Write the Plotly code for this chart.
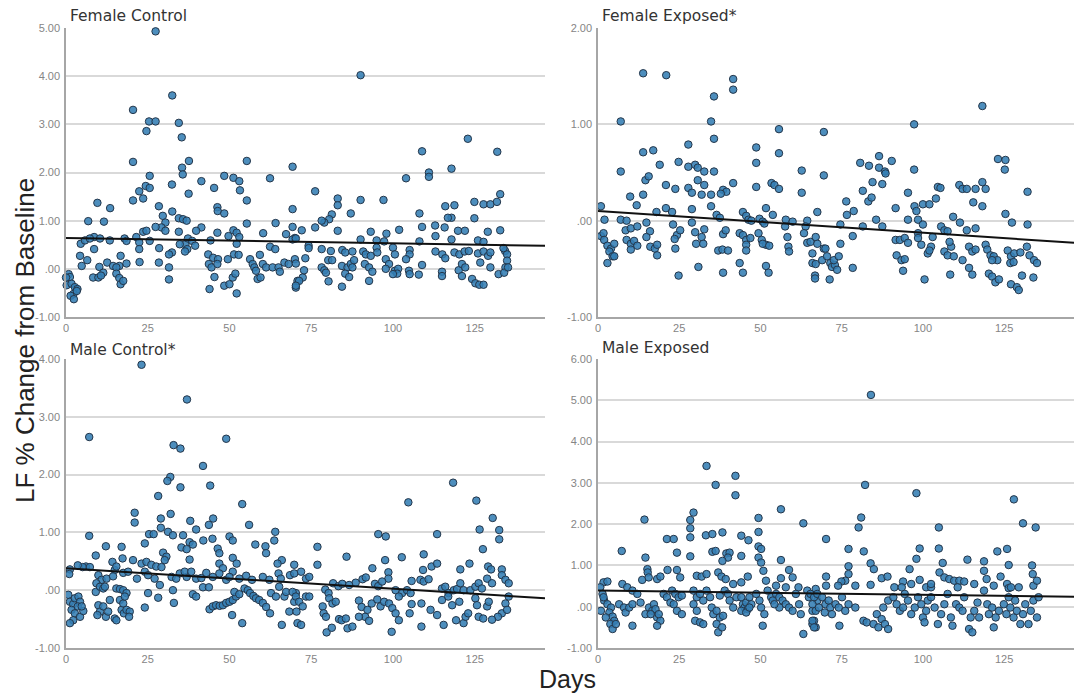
import plotly.graph_objects as go

# ---------------- data ----------------
# Female Control
fc_day = [27.4,32.5,20.5,34.5,25.4,27.4,24.6,35.4,20.5,37.6,
          35.5,35.7,25.6,55.3,69.3,62.4,41.4,32.4,37.5,24.4,
          25.6,22.4,23.6,20.5,48.4,51.2,53.0,45.3,53.2,55.3,
          28.4,9.6,13.5,46.3,46.4,48.4,69.3,32.5,29.6,30.4,
          29.2,6.8,11.6,34.5,35.8,36.9,55.3,64.1,69.3,27.4,
          30.4,34.5,41.4,39.8,23.6,46.3,51.2,52.2,60.3,67.3,
          4.5,8.6,5.8,7.3,10.4,13.4,17.9,18.5,21.5,22.4,
          24.6,25.6,28.5,22.4,8.6,36.5,37.3,38.6,39.5,37.1,
          36.4,44.2,49.7,52.2,53.0,43.5,45.0,43.7,62.4,64.0,
          70.0,70.0,32.4,4.3,4.8,6.5,16.7,16.3,12.6,14.4,
          15.4,18.5,22.5,28.4,31.5,34.8,46.5,44.5,46.3,49.5,
          51.4,52.8,56.3,57.1,57.6,58.1,59.3,60.2,61.2,63.2,
          65.0,65.4,66.8,68.1,10.2,11.4,8.3,9.9,10.7,15.4,
          16.3,16.7,17.5,0.8,1.2,0.0,0.2,1.7,2.7,3.5,
          2.3,3.3,1.4,2.4,31.5,31.5,43.9,45.4,48.4,50.0,
          51.0,51.8,52.2,58.6,59.5,70.3,70.8,72.4,71.3,70.3,
          90.1,122.9,108.9,131.9,111.0,111.0,117.9,104.0,76.2,83.1,
          83.1,90.1,97.1,124.9,127.7,129.8,131.8,132.8,87.1,81.3,
          80.5,79.0,78.2,108.1,116.0,118.8,117.9,116.8,124.9,76.2,
          72.1,83.1,93.2,98.0,101.9,108.9,112.9,115.8,119.9,122.0,
          129.0,132.8,113.0,69.3,70.3,90.1,95.0,97.3,108.1,117.9,
          126.0,127.7,74.2,74.2,78.2,81.0,84.5,85.4,87.6,90.9,
          91.7,93.2,95.0,95.2,100.0,100.6,105.1,105.1,104.0,113.0,
          115.1,116.0,118.8,120.3,121.9,123.2,126.0,127.7,129.1,129.8,
          134.3,134.9,134.9,134.4,133.8,73.2,70.3,72.8,80.2,81.4,
          78.2,79.0,79.5,84.4,86.1,87.1,87.6,88.1,85.4,86.6,
          84.4,91.4,92.7,93.7,92.7,97.8,98.8,97.8,100.6,101.6,
          101.3,100.0,104.9,105.1,107.9,108.9,115.0,115.0,120.1,121.1,
          121.1,122.1,124.2,125.2,126.4,127.7,126.7,129.8,132.3,134.0,
          135.2,80.3]
fc_val = [4.93,3.60,3.30,3.03,3.06,3.06,2.86,2.73,2.22,2.24,
          2.10,1.96,1.93,2.24,2.12,1.88,1.82,1.75,1.56,1.72,
          1.68,1.61,1.46,1.42,1.93,1.89,1.82,1.68,1.63,1.42,
          1.30,1.37,1.26,1.28,1.20,1.15,1.24,1.19,1.10,0.96,
          0.86,0.99,0.98,1.05,1.03,1.00,0.94,0.95,0.87,0.87,
          0.79,0.77,0.86,0.79,0.77,0.75,0.80,0.75,0.74,0.72,
          0.52,0.66,0.59,0.63,0.63,0.59,0.63,0.58,0.66,0.55,
          0.79,0.58,0.43,0.41,0.41,0.51,0.63,0.58,0.48,0.41,
          0.36,0.59,0.68,0.52,0.66,0.30,0.23,0.10,0.46,0.41,
          0.64,0.20,0.34,0.27,0.06,0.18,0.27,0.06,0.13,0.06,
          0.03,0.11,0.14,0.13,0.30,0.51,0.20,0.03,0.10,0.20,
          0.30,0.29,0.20,0.10,0.03,-0.04,0.29,0.10,0.03,0.03,
          0.03,-0.06,0.13,0.10,0.04,-0.08,-0.18,-0.18,-0.14,-0.10,
          -0.19,-0.32,-0.25,-0.11,-0.17,-0.18,-0.34,-0.31,-0.38,-0.42,
          -0.52,-0.46,-0.56,-0.63,0.03,-0.22,-0.42,-0.17,-0.35,-0.32,
          -0.18,-0.10,-0.51,-0.21,-0.18,-0.39,-0.25,-0.18,-0.25,-0.35,
          4.02,2.70,2.44,2.43,2.00,1.91,2.08,1.88,1.61,1.46,
          1.32,1.43,1.43,1.39,1.34,1.34,1.39,1.55,1.15,1.13,
          1.03,0.96,1.00,1.15,1.30,1.32,1.06,1.06,1.05,0.86,
          0.80,0.79,0.77,0.73,0.81,0.87,0.90,0.86,0.79,0.79,
          0.77,0.80,0.68,0.61,0.63,0.61,0.59,0.57,0.57,0.61,
          0.59,0.56,0.48,0.43,0.41,0.37,0.39,0.34,0.36,0.36,
          0.30,0.27,0.44,0.34,0.44,0.30,0.39,0.30,0.20,0.36,
          0.30,0.22,0.34,0.30,0.36,0.37,0.32,0.36,0.27,0.34,
          0.37,0.30,0.17,0.03,0.43,0.22,0.11,-0.03,0.18,0.18,
          0.03,-0.03,-0.08,0.06,0.03,0.10,0.03,0.18,-0.10,-0.17,
          -0.37,0.10,0.03,-0.06,-0.25,0.20,0.10,0.00,-0.04,0.00,
          -0.10,-0.11,-0.04,-0.11,-0.12,0.08,-0.06,-0.15,-0.03,-0.15,
          0.10,0.03,-0.21,-0.30,-0.33,-0.33,0.13,0.03,-0.11,-0.08,
          0.03,-0.26]

# Female Exposed*
fe_day = [13.9,21.0,41.6,41.6,35.7,7.0,34.8,35.7,55.7,27.8,
          48.7,13.9,17.0,55.7,7.0,19.0,24.8,27.8,29.9,30.7,
          32.7,35.7,48.7,62.7,14.6,15.6,30.7,32.7,20.9,23.8,
          27.8,28.9,41.6,38.5,39.5,37.8,48.7,53.4,54.3,55.7,
          62.7,9.9,13.9,11.9,31.9,34.8,34.8,28.9,20.9,22.8,
          18.0,0.9,36.5,37.5,44.6,45.6,51.7,53.8,67.5,2.0,
          7.0,8.8,14.9,28.9,46.3,47.2,49.7,50.7,51.2,57.8,
          59.9,64.4,63.9,0.9,1.7,8.5,10.1,12.1,16.0,23.1,
          24.3,25.3,23.6,29.9,31.9,32.7,38.5,39.3,43.6,44.6,
          45.6,45.6,46.9,49.4,50.4,51.7,57.6,58.3,63.4,64.4,
          65.4,67.0,1.9,2.9,4.0,5.0,3.5,4.5,2.9,5.0,
          8.8,10.1,11.1,12.1,10.1,14.9,16.1,17.5,18.2,18.2,
          23.8,24.8,30.9,30.2,32.4,37.0,38.3,40.0,38.5,43.6,
          44.6,45.6,50.7,52.7,51.7,52.5,58.6,58.8,66.0,66.8,
          67.5,
          69.5,69.5,97.3,118.3,97.3,123.1,125.4,125.2,80.7,83.4,
          86.5,86.5,88.3,88.5,90.4,84.5,87.5,81.5,83.2,84.2,
          95.4,104.6,105.4,111.2,112.2,113.5,116.2,118.3,119.3,132.2,
          76.4,78.7,76.6,91.6,97.4,98.0,100.0,102.0,104.0,115.5,
          118.3,125.4,95.4,98.5,100.0,98.5,85.6,87.5,81.5,74.6,
          78.4,109.3,111.4,113.5,116.2,127.4,132.2,105.6,106.6,107.6,
          69.5,74.6,91.6,92.9,94.4,95.4,91.9,93.4,94.4,93.9,
          98.5,99.5,101.5,102.5,103.0,102.0,100.5,106.6,107.6,108.7,
          109.5,108.2,108.4,112.2,114.2,115.2,116.2,114.2,115.2,119.3,
          119.8,120.8,121.8,122.9,121.3,120.3,121.3,122.3,123.4,126.1,
          127.1,128.1,130.0,126.9,127.9,132.0,132.8,134.2,135.1,134.0,
          127.1,128.9,129.5,130.5,66.0,67.0,66.8,69.0,70.0,70.5,
          71.5,72.0,71.3,72.9,72.6,73.6,74.1,78.4]
fe_val = [1.53,1.51,1.47,1.36,1.29,1.03,1.03,0.85,0.95,0.79,
          0.76,0.71,0.73,0.70,0.51,0.58,0.61,0.56,0.58,0.55,
          0.51,0.51,0.60,0.52,0.42,0.46,0.42,0.37,0.37,0.33,
          0.34,0.29,0.39,0.32,0.30,0.28,0.35,0.39,0.37,0.33,
          0.29,0.25,0.27,0.16,0.27,0.27,0.15,0.12,0.13,0.09,
          0.09,0.15,0.06,0.03,0.09,0.05,0.13,0.06,0.09,0.01,
          0.01,0.00,-0.02,-0.02,0.01,0.00,0.02,-0.01,-0.03,0.01,
          -0.01,0.00,-0.06,-0.16,-0.13,-0.10,-0.08,-0.06,-0.11,-0.04,
          -0.15,-0.10,-0.19,-0.12,-0.17,-0.09,-0.14,-0.10,-0.13,-0.15,
          -0.20,-0.25,-0.18,-0.13,-0.20,-0.25,-0.06,-0.17,-0.13,-0.23,
          -0.22,-0.17,-0.20,-0.26,-0.29,-0.24,-0.32,-0.37,-0.44,-0.37,
          -0.20,-0.24,-0.21,-0.26,-0.30,-0.17,-0.27,-0.29,-0.25,-0.36,
          -0.29,-0.57,-0.48,-0.24,-0.24,-0.31,-0.30,-0.31,-0.54,-0.44,
          -0.54,-0.31,-0.24,-0.26,-0.47,-0.54,-0.27,-0.32,-0.44,-0.57,
          -0.24,
          0.92,0.47,1.00,1.19,0.53,0.64,0.63,0.53,0.60,0.57,
          0.67,0.55,0.51,0.49,0.62,0.40,0.38,0.31,0.20,0.24,
          0.29,0.35,0.34,0.37,0.33,0.33,0.33,0.40,0.33,0.30,
          0.20,0.10,0.06,0.13,0.15,0.10,0.17,0.17,0.23,0.19,
          0.15,0.07,0.01,0.01,-0.04,-0.13,0.01,-0.06,-0.06,-0.04,
          -0.16,0.04,-0.02,-0.10,-0.08,-0.02,-0.04,-0.06,-0.10,-0.11,
          -0.29,-0.24,-0.20,-0.20,-0.18,-0.23,-0.36,-0.41,-0.40,-0.52,
          -0.18,-0.25,-0.34,-0.27,-0.17,-0.31,-0.61,-0.32,-0.36,-0.27,
          -0.37,-0.22,-0.56,-0.41,-0.27,-0.32,-0.30,-0.49,-0.56,-0.25,
          -0.30,-0.36,-0.37,-0.41,-0.41,-0.55,-0.58,-0.64,-0.61,-0.31,
          -0.37,-0.34,-0.33,-0.44,-0.43,-0.27,-0.36,-0.41,-0.44,-0.59,
          -0.66,-0.69,-0.72,-0.57,-0.34,-0.45,-0.60,-0.41,-0.29,-0.37,
          -0.44,-0.48,-0.61,-0.46,-0.41,-0.51,-0.37,-0.49]

# Male Control*
mc_day = [23.1,37.0,7.1,49.0,32.9,35.0,41.9,31.9,31.0,35.0,
          44.1,28.2,53.9,21.0,21.0,32.0,29.0,38.0,39.8,45.0,
          43.7,56.0,7.1,25.4,26.8,29.0,31.2,32.7,35.8,37.8,
          38.8,42.0,44.8,50.0,51.0,12.2,17.0,24.1,35.3,36.9,
          46.4,46.9,57.9,9.1,6.1,5.1,7.3,17.3,20.5,23.1,
          24.6,26.1,27.6,29.2,29.7,30.7,30.2,34.8,36.9,37.8,
          46.9,48.0,51.0,52.2,61.0,61.2,63.7,64.0,66.0,64.7,
          69.8,1.2,1.0,9.9,10.9,12.4,14.2,14.9,15.4,14.4,
          17.5,19.0,21.7,24.1,25.1,28.7,27.1,32.3,33.7,36.3,
          38.3,39.8,41.4,42.9,46.9,44.9,51.0,53.0,55.1,56.9,
          49.0,50.0,60.2,62.2,65.0,65.7,68.5,3.6,
          0.7,1.2,2.2,2.7,3.8,4.3,1.7,2.7,3.6,2.2,
          1.2,4.3,5.3,4.8,9.9,10.4,9.6,11.4,12.2,12.9,
          13.4,14.9,15.4,16.5,17.0,17.5,17.7,18.5,19.5,19.3,
          15.4,16.5,17.5,18.5,18.0,24.1,25.1,28.2,32.7,33.0,
          38.8,39.8,41.9,43.7,43.9,44.9,45.9,47.0,48.0,49.0,
          50.0,51.0,52.0,51.5,50.8,53.9,53.0,54.6,55.6,56.3,
          57.3,58.1,59.1,60.2,61.2,62.4,62.7,64.2,65.2,66.8,
          66.0,67.3,68.3,69.8,70.3,70.8,9.1,9.3,10.4,11.4,
          11.9,
          118.4,104.7,125.5,130.5,126.5,132.5,132.5,95.5,97.8,113.5,
          76.9,127.5,85.8,102.7,109.4,97.6,76.9,93.7,98.6,98.6,
          109.2,111.8,113.5,120.6,123.4,129.1,130.0,133.3,69.8,71.9,
          73.4,74.4,88.6,90.7,91.7,94.5,95.5,96.7,81.7,83.3,
          84.5,86.6,79.3,80.3,80.5,100.8,102.8,104.3,105.4,101.8,
          105.7,108.4,109.4,110.9,115.0,116.0,117.0,118.6,119.6,120.6,
          121.6,123.7,125.2,126.2,127.2,128.8,130.3,133.3,134.4,135.4,
          135.4,134.4,133.3,134.9,132.1,69.3,70.3,71.3,72.4,70.5,
          71.9,73.4,74.4,78.5,78.8,79.5,79.7,81.3,81.5,82.5,
          83.5,84.3,85.6,86.1,87.6,89.6,90.4,91.5,92.7,89.6,
          92.2,93.5,95.2,96.2,97.3,98.8,99.8,100.8,101.8,99.6,
          105.1,105.7,108.7,108.7,111.5,113.5,115.0,115.5,116.9,118.1,
          119.3,120.3,121.6,122.2,123.0,125.2,125.7,126.2,127.6,128.8,
          130.3,129.3]
mc_val = [3.90,3.30,2.65,2.62,2.51,2.45,2.15,1.96,1.89,1.78,
          1.81,1.63,1.49,1.34,1.17,1.32,1.24,1.20,1.05,1.24,
          1.13,1.13,0.94,0.97,0.97,1.08,1.01,0.95,0.95,0.83,
          0.79,0.86,0.89,0.93,0.86,0.76,0.75,0.81,0.74,0.71,
          0.72,0.64,0.79,0.60,0.41,0.40,0.40,0.55,0.52,0.46,
          0.49,0.44,0.41,0.40,0.65,0.58,0.52,0.29,0.23,0.53,
          0.46,0.38,0.56,0.46,0.76,0.64,0.86,1.01,0.52,0.46,
          0.44,0.36,0.28,0.26,0.18,0.20,0.49,0.35,0.41,0.24,
          0.30,0.32,0.20,0.32,0.26,0.09,0.20,0.23,0.20,0.32,
          0.32,0.20,0.21,0.30,0.29,0.23,0.32,0.20,0.25,0.18,
          0.18,0.23,0.23,0.18,0.29,0.20,0.26,0.43,
          -0.08,-0.20,-0.24,-0.14,-0.11,-0.20,-0.34,-0.40,-0.28,-0.52,
          -0.57,-0.46,-0.36,-0.28,-0.26,-0.37,-0.43,-0.28,-0.46,-0.37,
          -0.17,-0.49,-0.52,-0.17,-0.34,-0.23,-0.40,-0.34,-0.37,-0.46,
          0.03,0.02,0.00,-0.05,-0.11,-0.30,-0.05,-0.13,0.00,-0.22,
          -0.07,-0.11,0.05,0.05,-0.33,-0.28,-0.26,-0.27,-0.26,-0.22,
          -0.20,-0.17,-0.11,-0.03,-0.43,-0.57,-0.07,0.03,0.00,-0.05,
          -0.10,-0.14,-0.17,-0.22,-0.29,-0.40,-0.05,-0.11,0.06,-0.11,
          -0.60,-0.03,-0.37,-0.20,-0.05,-0.57,-0.03,0.12,0.06,0.03,
          0.06,
          1.86,1.52,1.55,1.25,1.05,1.04,0.88,0.97,0.93,0.97,
          0.75,0.71,0.58,0.57,0.62,0.52,0.44,0.38,0.31,0.20,
          0.35,0.41,0.46,0.36,0.46,0.41,0.36,0.36,0.29,0.32,
          0.20,0.23,0.13,0.19,0.22,0.11,0.07,0.15,0.12,0.07,
          0.11,0.09,0.01,-0.05,-0.14,0.00,-0.05,0.00,-0.05,-0.11,
          0.16,0.18,0.15,0.19,0.03,0.06,-0.05,0.00,0.02,0.12,
          0.00,0.00,0.06,0.12,0.03,0.20,0.12,0.26,0.18,0.12,
          -0.11,-0.23,-0.40,-0.34,-0.46,-0.03,-0.11,-0.20,-0.28,-0.37,
          -0.60,-0.11,-0.11,-0.28,-0.40,-0.46,-0.73,-0.65,-0.23,-0.20,
          -0.50,-0.52,-0.49,-0.66,-0.63,-0.18,-0.29,-0.46,-0.53,-0.46,
          -0.34,-0.23,-0.16,-0.28,-0.20,-0.23,-0.31,-0.40,-0.52,-0.72,
          -0.40,-0.24,-0.23,-0.63,-0.34,-0.43,-0.17,-0.60,-0.11,-0.26,
          -0.52,-0.20,-0.57,-0.46,-0.40,-0.14,-0.26,-0.46,-0.49,-0.28,
          -0.51,-0.20]

# Male Exposed
me_day = [33.4,42.3,42.3,36.2,56.3,14.3,29.4,28.4,28.4,28.4,
          49.4,49.4,63.2,21.2,23.3,33.2,35.2,38.3,44.1,46.3,
          7.3,14.6,28.4,24.3,35.2,36.2,49.4,50.2,44.1,39.5,
          40.5,40.0,38.3,56.3,15.2,15.3,21.4,24.3,49.4,50.2,
          50.9,58.8,7.5,13.6,15.6,1.7,2.9,18.2,19.2,25.3,
          30.4,31.9,33.4,37.0,38.0,39.3,41.6,44.1,46.1,51.7,
          56.3,59.9,54.8,57.8,61.7,67.0,
          0.7,1.4,1.9,2.9,4.0,3.5,4.5,5.0,3.8,4.5,
          5.5,2.4,0.9,1.7,6.5,8.0,8.5,9.6,10.6,10.6,
          9.0,10.6,12.1,13.1,14.6,15.7,16.7,17.2,18.2,19.2,
          17.7,18.7,18.2,16.2,20.2,21.2,22.3,22.8,23.8,24.8,
          23.3,24.3,25.8,25.8,29.4,30.4,31.4,32.4,29.4,30.4,
          29.9,31.4,32.4,33.4,34.5,35.0,35.5,36.5,37.5,36.5,
          38.5,37.0,38.2,37.5,39.0,40.0,40.5,41.6,42.6,44.1,
          44.6,45.1,45.6,46.1,46.6,47.2,44.1,45.6,46.6,48.7,
          49.7,50.2,51.2,50.7,52.2,53.3,53.8,54.8,55.8,56.8,
          57.8,58.8,59.9,55.8,54.3,60.9,61.9,62.4,63.2,64.4,
          64.9,66.0,66.5,67.0,67.5,66.0,
          84.0,82.2,98.0,128.0,81.0,80.2,104.9,130.8,134.7,70.2,
          77.1,81.8,99.0,104.9,122.9,125.9,98.0,113.7,118.8,106.1,
          77.1,83.9,84.9,95.9,126.4,133.6,70.2,70.2,77.1,76.1,
          74.9,73.9,87.3,89.1,83.9,79.2,91.2,93.9,96.4,99.0,
          101.0,102.5,105.1,106.6,108.1,109.6,111.2,112.7,
          65.4,66.5,67.5,66.0,67.0,66.0,66.5,68.0,69.0,70.0,
          69.8,71.0,71.5,72.0,73.1,74.1,74.3,75.1,76.1,77.1,
          79.2,81.7,82.7,84.8,85.8,86.3,87.3,88.3,89.3,87.8,
          89.3,90.9,91.9,92.9,93.9,94.4,95.4,96.4,97.5,98.5,
          99.5,100.0,100.5,101.0,101.5,102.5,103.6,104.6,105.6,106.6,
          107.6,108.6,109.1,110.2,111.2,112.2,112.7,114.2,115.2,114.7,
          115.8,116.8,117.3,118.8,119.8,120.3,121.3,121.8,122.4,123.4,
          124.9,125.7,126.4,126.9,127.9,128.4,128.9,130.0,130.8,131.5,
          132.5,133.2,134.0,135.1,135.6,
          118.8,119.6,123.9,125.9,126.4,127.1,129.5,133.8,134.0,135.1,
          110.7,115.8,121.8,102.5,93.5]
me_val = [3.41,3.17,2.70,2.95,2.36,2.11,2.28,2.10,1.90,1.68,
          2.15,1.81,2.02,1.64,1.64,1.73,1.76,1.80,1.72,1.61,
          1.35,1.19,1.22,1.31,1.33,1.35,1.46,1.40,1.23,1.29,
          1.31,1.19,1.11,1.13,0.91,0.83,0.89,0.89,1.19,1.07,
          0.87,0.89,0.55,0.65,0.71,0.59,0.61,0.67,0.73,0.71,
          0.75,0.73,0.79,0.83,0.73,0.67,0.55,0.59,0.73,0.63,
          0.69,0.71,0.51,0.47,0.47,0.43,
          0.47,0.31,0.15,0.06,-0.02,-0.14,-0.24,-0.34,-0.42,-0.54,
          -0.42,-0.26,-0.10,0.23,0.06,-0.02,-0.14,-0.02,0.06,-0.46,
          0.47,0.39,0.31,0.10,-0.18,-0.02,-0.10,0.06,-0.26,-0.34,
          -0.06,-0.18,-0.46,-0.18,0.31,0.23,0.10,0.39,0.31,0.23,
          0.06,-0.10,-0.18,0.27,0.39,0.23,0.31,0.15,0.06,-0.10,
          -0.34,-0.38,-0.42,0.39,0.23,-0.02,-0.18,-0.10,-0.26,-0.42,
          -0.22,-0.62,-0.50,0.27,0.39,0.31,0.15,-0.02,0.23,0.23,
          0.06,-0.02,0.10,-0.06,0.23,0.06,-0.10,-0.14,-0.02,0.31,
          0.15,-0.02,-0.18,-0.46,0.39,0.23,0.15,0.31,0.23,0.15,
          0.06,-0.02,-0.10,-0.02,0.06,0.31,0.06,-0.18,-0.66,0.39,
          0.23,-0.10,-0.34,-0.50,0.15,-0.42,
          5.13,2.95,2.75,2.60,2.16,1.92,1.92,2.02,1.92,1.64,
          1.40,1.34,1.41,1.41,1.34,1.40,1.16,1.14,1.10,1.06,
          0.98,1.05,0.91,0.91,1.01,1.00,0.73,0.51,0.79,0.63,
          0.61,0.51,0.69,0.73,0.53,0.51,0.47,0.61,0.55,0.65,
          0.47,0.47,0.83,0.71,0.67,0.63,0.63,0.61,
          0.31,0.23,0.31,0.06,-0.10,-0.34,-0.50,-0.02,0.23,0.06,
          -0.14,0.15,-0.02,-0.18,0.06,-0.02,-0.46,0.23,-0.10,0.06,
          -0.02,-0.34,-0.38,-0.42,-0.18,-0.50,-0.30,-0.42,-0.54,-0.02,
          0.15,0.23,0.06,-0.10,-0.02,0.31,0.15,-0.18,-0.02,0.23,
          0.06,-0.26,-0.38,-0.10,0.15,0.23,-0.02,-0.42,-0.18,0.06,
          0.31,-0.26,-0.46,0.06,-0.02,-0.10,0.23,-0.54,-0.62,-0.26,
          -0.10,0.10,-0.26,0.39,0.06,-0.18,-0.02,-0.50,-0.26,-0.10,
          0.06,-0.18,0.23,-0.02,-0.26,0.15,-0.10,-0.42,-0.18,0.06,
          -0.42,-0.10,0.15,-0.26,0.23,
          0.87,0.67,0.73,0.55,0.45,0.47,0.47,0.79,0.51,0.63,
          0.47,0.55,0.51,0.55,0.47]

# fit lines (intercept at day 0, slope per day)
fits = {
    "fc": (0.64, -0.0011),
    "fe": (0.10, -0.00225),
    "mc": (0.38, -0.00355),
    "me": (0.39, -0.0010),
}

titles = ["Female Control", "Female Exposed*", "Male Control*", "Male Exposed"]
y_ranges = [(-1, 5), (-1, 2), (-1, 4), (-1, 6)]
x_ticks = [0, 25, 50, 75, 100, 125]
x_max = 146.5


def ylab(v):
    if v == 0:
        return ".00"
    return f"{v:.2f}"


# ---------------- figure ----------------
W, H = 1074, 694
ML, MR, MT, MB = 66, 0, 28, 46
PW, PH = W - ML - MR, H - MT - MB

col_dom = [(0.0, 479 / PW), ((598 - ML) / PW, 1.0)]
row_dom = [((648 - 317) / PH, 1.0), (0.0, (648 - 359) / PH)]

fig = go.Figure()

panels = [
    (fc_day, fc_val, "fc"),
    (fe_day, fe_val, "fe"),
    (mc_day, mc_val, "mc"),
    (me_day, me_val, "me"),
]

grid_c = "#d9d9d9"
axis_c = "#a6a6a6"
tick_font = dict(family="Liberation Sans, Arial, sans-serif", size=11, color="#858585")

for i, (dx, dy, key) in enumerate(panels):
    r, c = divmod(i, 2)
    n = i + 1
    xa = "x" if n == 1 else f"x{n}"
    ya = "y" if n == 1 else f"y{n}"
    fig.add_trace(go.Scatter(
        x=dx, y=dy, mode="markers", xaxis=xa, yaxis=ya, showlegend=False,
        marker=dict(size=7.5, color="rgba(52,126,180,0.88)",
                    line=dict(color="#24364a", width=1)),
        cliponaxis=False,
    ))
    a, b = fits[key]
    fx = [0, x_max]
    fig.add_trace(go.Scatter(
        x=fx, y=[a + b * v for v in fx], mode="lines", xaxis=xa, yaxis=ya,
        showlegend=False, line=dict(color="#111111", width=2),
    ))
    lo, hi = y_ranges[i]
    yt = list(range(lo, hi + 1))
    xkey = "xaxis" if n == 1 else f"xaxis{n}"
    ykey = "yaxis" if n == 1 else f"yaxis{n}"
    fig.update_layout(**{
        xkey: dict(domain=col_dom[c], anchor=ya, range=[0, x_max],
                   tickvals=x_ticks, ticktext=[str(t) for t in x_ticks],
                   showgrid=False, zeroline=False, showline=True,
                   linecolor=axis_c, linewidth=1.5, ticks="",
                   tickfont=tick_font, fixedrange=True),
        ykey: dict(domain=row_dom[r], anchor=xa, range=[lo, hi],
                   tickvals=yt, ticktext=[ylab(v) for v in yt],
                   showgrid=True, gridcolor=grid_c, gridwidth=1.5,
                   zeroline=False, showline=True, linecolor=axis_c,
                   linewidth=1.5, ticks="", tickfont=tick_font,
                   ticklabelstandoff=2, fixedrange=True),
    })

# panel titles
title_pos = [
    ((68 - ML) / PW, (648 - 16) / PH),
    ((600 - ML) / PW, (648 - 16) / PH),
    ((68 - ML) / PW, (648 - 350) / PH),
    ((600 - ML) / PW, (648 - 348) / PH),
]
for t, (px, py) in zip(titles, title_pos):
    fig.add_annotation(text=t, x=px, y=py, xref="paper", yref="paper",
                       xanchor="left", yanchor="middle", showarrow=False,
                       font=dict(family="DejaVu Sans, sans-serif", size=15.5, color="#333333"))

# axis titles
fig.add_annotation(text="LF % Change from Baseline", x=(25 - ML) / PW, y=(648 - 341) / PH,
                   xref="paper", yref="paper", textangle=-90, showarrow=False,
                   xanchor="center", yanchor="middle",
                   font=dict(family="Liberation Sans, Arial, sans-serif", size=26, color="#222222"))
fig.add_annotation(text="Days", x=(567 - ML) / PW, y=(648 - 679) / PH,
                   xref="paper", yref="paper", showarrow=False,
                   xanchor="center", yanchor="middle",
                   font=dict(family="Liberation Sans, Arial, sans-serif", size=25, color="#222222"))

fig.update_layout(
    width=W, height=H,
    margin=dict(l=ML, r=MR, t=MT, b=MB),
    paper_bgcolor="white", plot_bgcolor="white",
)

fig.write_html("out.html",
               config={"displayModeBar": False},
               post_script="document.body.style.margin='0px';document.body.style.overflow='hidden';")
